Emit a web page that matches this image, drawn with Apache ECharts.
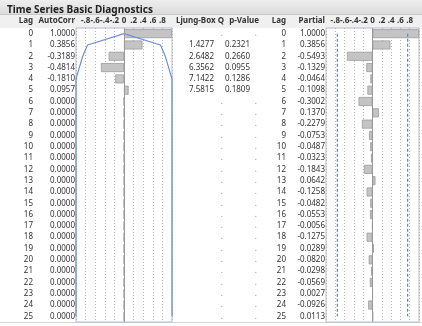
<!DOCTYPE html>
<html lang="en">
<head>
<meta charset="UTF-8">
<script src="https://cdn.jsdelivr.net/npm/echarts@6/dist/echarts.min.js"></script>
<title>Time Series Basic Diagnostics</title>
<style>
  *{margin:0;padding:0}
  html,body{width:100%;height:100%;background:#fff}
</style>
</head>
<body>
<div id="main" style="width:422px;height:326px"></div>
<script type="text/javascript">
// table data
var lags = ['0','1','2','3','4','5','6','7','8','9','10','11','12','13','14','15','16','17','18','19','20','21','22','23','24','25'];
var autoCorr = [1.0000, 0.3856, -0.3189, -0.4814, -0.1810, 0.0957, 0, 0, 0, 0, 0, 0, 0, 0, 0, 0, 0, 0, 0, 0, 0, 0, 0, 0, 0, 0];
var ljungQ = [null, 1.4277, 2.6482, 6.3562, 7.1422, 7.5815, null, null, null, null, null, null, null, null, null, null, null, null, null, null, null, null, null, null, null, null];
var pValue = [null, 0.2321, 0.2660, 0.0955, 0.1286, 0.1809, null, null, null, null, null, null, null, null, null, null, null, null, null, null, null, null, null, null, null, null];
var partial = [1.0000, 0.3856, -0.5493, -0.1329, -0.0464, -0.1098, -0.3002, 0.1370, -0.2279, -0.0753, -0.0487, -0.0323, -0.1843, 0.0642, -0.1258, -0.0482, -0.0553, -0.0056, -0.1275, 0.0289, -0.0820, -0.0298, -0.0569, 0.0027, -0.0926, 0.0113];
// confidence curves (blue)
var acfBound = [0, 0.76, 0.86, 0.93, 1, 1, 1, 1, 1, 1, 1, 1, 1, 1, 1, 1, 1, 1, 1, 1, 1, 1, 1, 1, 1, 1];
var pacfBound = [0.756, 0.756, 0.756, 0.756, 0.756, 0.756, 0.756, 0.756, 0.756, 0.756, 0.756, 0.756, 0.756, 0.756, 0.756, 0.756, 0.756, 0.756, 0.756, 0.756, 0.756, 0.756, 0.756, 0.756, 0.756, 0.756];
var tickValues = [-0.8, -0.6, -0.4, -0.2, 0, 0.2, 0.4, 0.6, 0.8];
var tickLabels = ['-.8', '-.6', '-.4', '-.2', '0', '.2', '.4', '.6', '.8'];
var headers = ['Lag', 'AutoCorr', 'Ljung-Box Q', 'p-Value', 'Lag', 'Partial'];

var FONT = 'Noto Sans';
var TXT = '#333';

var myChart = echarts.init(document.getElementById('main'));

function tickFmt(v) {
  for (var i = 0; i < tickValues.length; i++) {
    if (Math.abs(v - tickValues[i]) < 1e-6) return tickLabels[i];
  }
  return '';
}
function fix4(v) { return v.toFixed(4); }

// one text column = one hidden category axis with an offset
function column(grid, offset, fmt, rich) {
  var ax = {
    type: 'category', gridIndex: grid, data: lags, inverse: true,
    position: 'left', offset: offset,
    axisLine: {show: false}, axisTick: {show: false}, splitLine: {show: false},
    axisLabel: {margin: 0, fontSize: 8, fontFamily: FONT, color: TXT, formatter: fmt}
  };
  if (rich) ax.axisLabel.rich = rich;
  return ax;
}

function valueAxis(grid) {
  return {
    type: 'value', gridIndex: grid, min: -1, max: 1, interval: 0.2, position: 'top',
    axisLine: {show: false}, axisTick: {show: false},
    axisLabel: {margin: 3, fontSize: 8, fontWeight: 'bold', fontFamily: FONT, color: TXT, formatter: tickFmt},
    splitLine: {show: true, lineStyle: {color: '#b4b4b4', type: [1, 2], width: 1}}
  };
}

var missRich = {
  v: {fontSize: 8, fontFamily: FONT, color: TXT, padding: [0, 10, 0, 0]},
  d: {fontSize: 8, fontFamily: FONT, color: '#888', padding: [0, 1, 0, 0]}
};
var missRichP = {
  v: {fontSize: 8, fontFamily: FONT, color: TXT, padding: [0, 9, 0, 0]},
  d: {fontSize: 8, fontFamily: FONT, color: '#888', padding: [0, 2, 0, 0]}
};

var barStyle = {color: '#c4c4c4', borderColor: '#9c9c9c', borderWidth: 0.8};
var zeroLine = {
  silent: true, symbol: 'none', label: {show: false},
  lineStyle: {color: '#9a9a9a', type: 'solid', width: 1},
  data: [{xAxis: 0}]
};

// column right edges (px) for the header texts
var headerRight = [33, 75, 224, 259, 286, 325];
var graphics = [
  {type: 'rect', z: -10, shape: {x: 0, y: 0, width: 422, height: 14},
    style: {fill: new echarts.graphic.LinearGradient(0, 0, 0, 1, [{offset: 0, color: '#eeeeee'}, {offset: 1, color: '#dcdcdc'}])}},
  {type: 'rect', z: -10, shape: {x: 0, y: 14, width: 422, height: 14}, style: {fill: '#f0f0f0'}},
  {type: 'line', z: -9, shape: {x1: 0, y1: 14.5, x2: 422, y2: 14.5}, style: {stroke: '#c8c8c8', lineWidth: 1}},
  {type: 'line', z: -9, shape: {x1: 0, y1: 322.5, x2: 422, y2: 322.5}, style: {stroke: '#d4d4d4', lineWidth: 1}}
];
headers.forEach(function (h, i) {
  graphics.push({
    type: 'text', x: headerRight[i], y: 21,
    style: {text: h, align: 'right', verticalAlign: 'middle', font: 'bold 8px "' + FONT + '"', fill: TXT}
  });
});

var option = {
  animation: false,
  title: {
    text: 'Time Series Basic Diagnostics', left: 2, top: 0,
    textStyle: {fontSize: 10, fontWeight: 'bold', fontFamily: FONT, color: '#222'}
  },
  graphic: graphics,
  grid: [
    {left: 76, top: 28, width: 96, height: 294, show: true, borderColor: '#b6bccb', borderWidth: 1, backgroundColor: '#fff'},
    {left: 326, top: 28, width: 96, height: 294, show: true, borderColor: '#b6bccb', borderWidth: 1, backgroundColor: '#fff'}
  ],
  xAxis: [valueAxis(0), valueAxis(1)],
  yAxis: [
    // left table
    column(0, 1, function (v, i) { return fix4(autoCorr[i]); }),
    column(0, 43, function (v) { return v; }),
    // middle + right table
    column(1, 1, function (v, i) { return fix4(partial[i]); }),
    column(1, 40, function (v) { return v; }),
    column(1, 67, function (v, i) {
      return pValue[i] == null ? '{d|.}' : '{v|' + fix4(pValue[i]) + '}';
    }, missRichP),
    column(1, 102, function (v, i) {
      return ljungQ[i] == null ? '{d|.}' : '{v|' + fix4(ljungQ[i]) + '}';
    }, missRich)
  ],
  series: [
    {type: 'bar', xAxisIndex: 0, yAxisIndex: 0, data: autoCorr, barWidth: 9, itemStyle: barStyle, markLine: zeroLine, silent: true},
    {type: 'line', xAxisIndex: 0, yAxisIndex: 0, data: acfBound, symbol: 'none', silent: true,
      lineStyle: {color: '#6d8fdb', width: 1.2}},
    {type: 'line', xAxisIndex: 0, yAxisIndex: 0, data: acfBound.map(function (v) { return -v; }), symbol: 'none', silent: true,
      lineStyle: {color: '#6d8fdb', width: 1.2}},
    {type: 'bar', xAxisIndex: 1, yAxisIndex: 2, data: partial, barWidth: 9, itemStyle: barStyle, markLine: zeroLine, silent: true},
    {type: 'line', xAxisIndex: 1, yAxisIndex: 2, data: pacfBound, symbol: 'none', silent: true,
      lineStyle: {color: '#5b7fd6', width: 1.2, type: [3, 2]}},
    {type: 'line', xAxisIndex: 1, yAxisIndex: 2, data: pacfBound.map(function (v) { return -v; }), symbol: 'none', silent: true,
      lineStyle: {color: '#5b7fd6', width: 1.2, type: [3, 2]}}
  ]
};
myChart.setOption(option);
</script>
</body>
</html>
